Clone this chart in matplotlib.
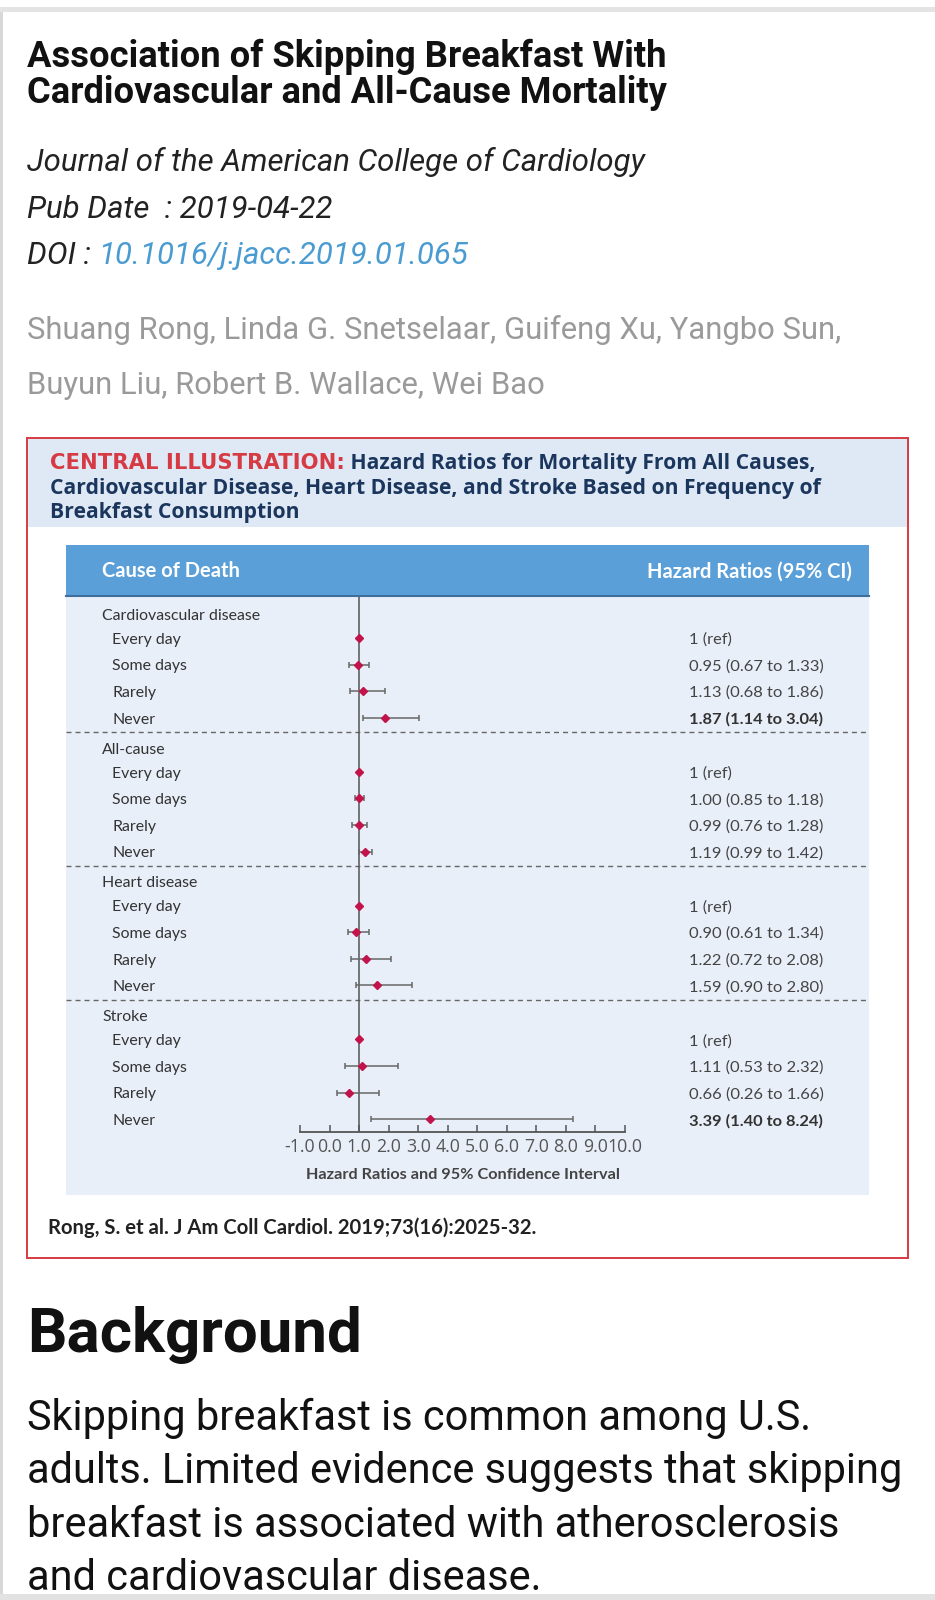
import matplotlib
matplotlib.use("Agg")
import matplotlib.pyplot as plt
from matplotlib.patches import Rectangle

# article header text
title_lines = ["Association of Skipping Breakfast With", "Cardiovascular and All-Cause Mortality"]
journal = "Journal of the American College of Cardiology"
pub_date = "Pub Date  : 2019-04-22"
doi = "10.1016/j.jacc.2019.01.065"
author_lines = ["Shuang Rong, Linda G. Snetselaar, Guifeng Xu, Yangbo Sun,",
                "Buyun Liu, Robert B. Wallace, Wei Bao"]
header_red = "CENTRAL ILLUSTRATION:"
header_lines = [" Hazard Ratios for Mortality From All Causes,",
                "Cardiovascular Disease, Heart Disease, and Stroke Based on Frequency of",
                "Breakfast Consumption"]
citation = "Rong, S. et al. J Am Coll Cardiol. 2019;73(16):2025-32."
background_head = "Background"
background_lines = ["Skipping breakfast is common among U.S.",
                    "adults. Limited evidence suggests that skipping",
                    "breakfast is associated with atherosclerosis",
                    "and cardiovascular disease."]

# forest plot data
groups = ["Cardiovascular disease", "All-cause", "Heart disease", "Stroke"]
levels = ["Every day", "Some days", "Rarely", "Never"]
hr = [[1, 0.95, 1.13, 1.87],
      [1, 1.00, 0.99, 1.19],
      [1, 0.90, 1.22, 1.59],
      [1, 1.11, 0.66, 3.39]]
ci_lo = [[1, 0.67, 0.68, 1.14],
         [1, 0.85, 0.76, 0.99],
         [1, 0.61, 0.72, 0.90],
         [1, 0.53, 0.26, 1.40]]
ci_hi = [[1, 1.33, 1.86, 3.04],
         [1, 1.18, 1.28, 1.42],
         [1, 1.34, 2.08, 2.80],
         [1, 2.32, 1.66, 8.24]]
xticks = list(range(-1, 11))

RED = "#d63a42"
NAVY = "#1b365d"
BAR = "#5b9fd9"
BODY = "#e9eff9"
DOT = "#c2134b"

fig = plt.figure(figsize=(9.35, 16), dpi=100)
renderer = fig.canvas.get_renderer()

bg = fig.add_axes([0, 0, 1, 1])
bg.set_xlim(0, 935)
bg.set_ylim(1600, 0)
bg.axis("off")


def fit(text, width, **kw):
    t = fig.text(0, 0.5, text, fontsize=20, **kw)
    w = t.get_window_extent(renderer=renderer).width
    t.remove()
    return 20 * width / w


def put(x, yc, s, size, **kw):
    # yc is the middle of the capital letters, in pixels from the top
    return bg.text(x, yc + 0.36 * size * 100 / 72, s, fontsize=size, va="baseline", **kw)


def width_of(t):
    return t.get_window_extent(renderer=renderer).width


# page chrome
bg.add_patch(Rectangle((0, 7), 935, 5, color="#e4e4e4", lw=0))
bg.add_patch(Rectangle((0, 12), 2.5, 1588, color="#d8d8d8", lw=0))
bg.add_patch(Rectangle((0, 1594), 935, 6, color="#e2e2e2", lw=0))

# title block
title_size = fit(title_lines[0], 637, family="Roboto", weight="bold")
for i, line in enumerate(title_lines):
    put(27, 54 + 36 * i, line, title_size, family="Roboto", weight="bold", color="#111111")

jsize = fit(journal, 617, family="Roboto", style="italic")
put(27, 160, journal, jsize, family="Roboto", style="italic", color="#222222")
put(27, 207, pub_date, jsize, family="Roboto", style="italic", color="#222222")
t = put(27, 253, "DOI : ", jsize, family="Roboto", style="italic", color="#222222")
put(27 + width_of(t), 253, doi, jsize, family="Roboto", style="italic", color="#4a9bd1")

asize = fit(author_lines[0], 814, family="Roboto")
for i, line in enumerate(author_lines):
    put(27, 328 + 55 * i, line, asize, family="Roboto", color="#9a9a9a")

# central illustration frame
bg.add_patch(Rectangle((27, 438), 881, 820, facecolor="white", edgecolor=RED, lw=1.4))
bg.add_patch(Rectangle((28, 439), 879, 88, color="#dfe8f5", lw=0))
hsize = fit(header_lines[1], 771, family="Open Sans", weight="bold")
t = put(50, 461, header_red, hsize, family="DejaVu Sans", weight="bold", color=RED)
put(50 + width_of(t), 461, header_lines[0], hsize, family="Open Sans", weight="bold", color=NAVY)
put(50, 486, header_lines[1], hsize, family="Open Sans", weight="bold", color=NAVY)
put(50, 510, header_lines[2], hsize, family="Open Sans", weight="bold", color=NAVY)

# inner panel
bg.add_patch(Rectangle((66, 545), 803, 650, color=BODY, lw=0))
bg.add_patch(Rectangle((66, 545), 803, 52, color=BAR, lw=0))
bg.plot([66, 869], [596, 596], color="#3f6e9c", lw=1.5)
bsize = fit("Hazard Ratios (95% CI)", 205, family="Lato", weight="bold")
put(102, 570, "Cause of Death", bsize, family="Lato", weight="bold", color="white")
put(852, 570, "Hazard Ratios (95% CI)", bsize, family="Lato", weight="bold", color="white", ha="right")

lsize = fit(groups[0], 159, family="Lato")
rsize = fit("0.95 (0.67 to 1.33)", 134, family="Lato")

ax = fig.add_axes([300 / 935, (1600 - 1132) / 1600, 325 / 935, (1132 - 597) / 1600])
ax.set_facecolor("none")
ax.set_xlim(-1, 10)
ax.set_ylim(1132, 597)
ax.axvline(1, color="#555555", lw=1.1, zorder=1)

group_step = 133.8
row_step = 26.6
for g, name in enumerate(groups):
    gy = 614 + group_step * g
    put(102, gy, name, lsize, family="Lato", color="#333333")
    for k, lev in enumerate(levels):
        y = gy + 24 + row_step * k
        put(112, y, lev, lsize, family="Lato", color="#333333")
        h, lo, hi = hr[g][k], ci_lo[g][k], ci_hi[g][k]
        if lo == hi:
            label = "1 (ref)"
        else:
            label = f"{h:.2f} ({lo:.2f} to {hi:.2f})"
            ax.errorbar(h, y, xerr=[[h - lo], [hi - h]], fmt="none", ecolor="#666666",
                        elinewidth=1.1, capsize=2.5, capthick=1.1, zorder=2)
        ax.plot(h, y, marker="D", ms=4.4, color=DOT, mec=DOT, zorder=3)
        sig = lo > 1
        put(689, y, label, rsize, family="Lato", weight="bold" if sig else "normal",
            color="#333333" if sig else "#444444")
    if g < len(groups) - 1:
        sy = gy + group_step - 15.5
        bg.plot([66, 869], [sy, sy], color="#666666", lw=1.0, ls=(0, (3.6, 2.9)))

tsize = fit("0.0", 25, family="Open Sans")
for side in ["left", "top", "right"]:
    ax.spines[side].set_visible(False)
ax.spines["bottom"].set_color("#555555")
ax.spines["bottom"].set_linewidth(1.3)
ax.set_yticks([])
ax.set_xticks(xticks)
ax.set_xticklabels([f"{v:.1f}" for v in xticks], fontsize=tsize, color="#555555", family="Open Sans")
ax.tick_params(axis="x", direction="in", length=5, width=1.1, color="#555555", pad=4)

xsize = fit("Hazard Ratios and 95% Confidence Interval", 314, family="Lato", weight="bold")
put(463, 1173, "Hazard Ratios and 95% Confidence Interval", xsize, family="Lato", weight="bold",
    color="#444444", ha="center")

csize = fit(citation, 489, family="Lato", weight="bold")
put(48, 1227, citation, csize, family="Lato", weight="bold", color="#222222")

# article body
bgsize = fit(background_head, 334, family="Roboto", weight="bold")
put(27, 1330, background_head, bgsize, family="Roboto", weight="bold", color="#111111")
psize = fit(background_lines[1], 873, family="Roboto")
for i, line in enumerate(background_lines):
    put(27, 1415 + 53.5 * i, line, psize, family="Roboto", color="#111111")

fig.savefig("out.png", dpi=100)
